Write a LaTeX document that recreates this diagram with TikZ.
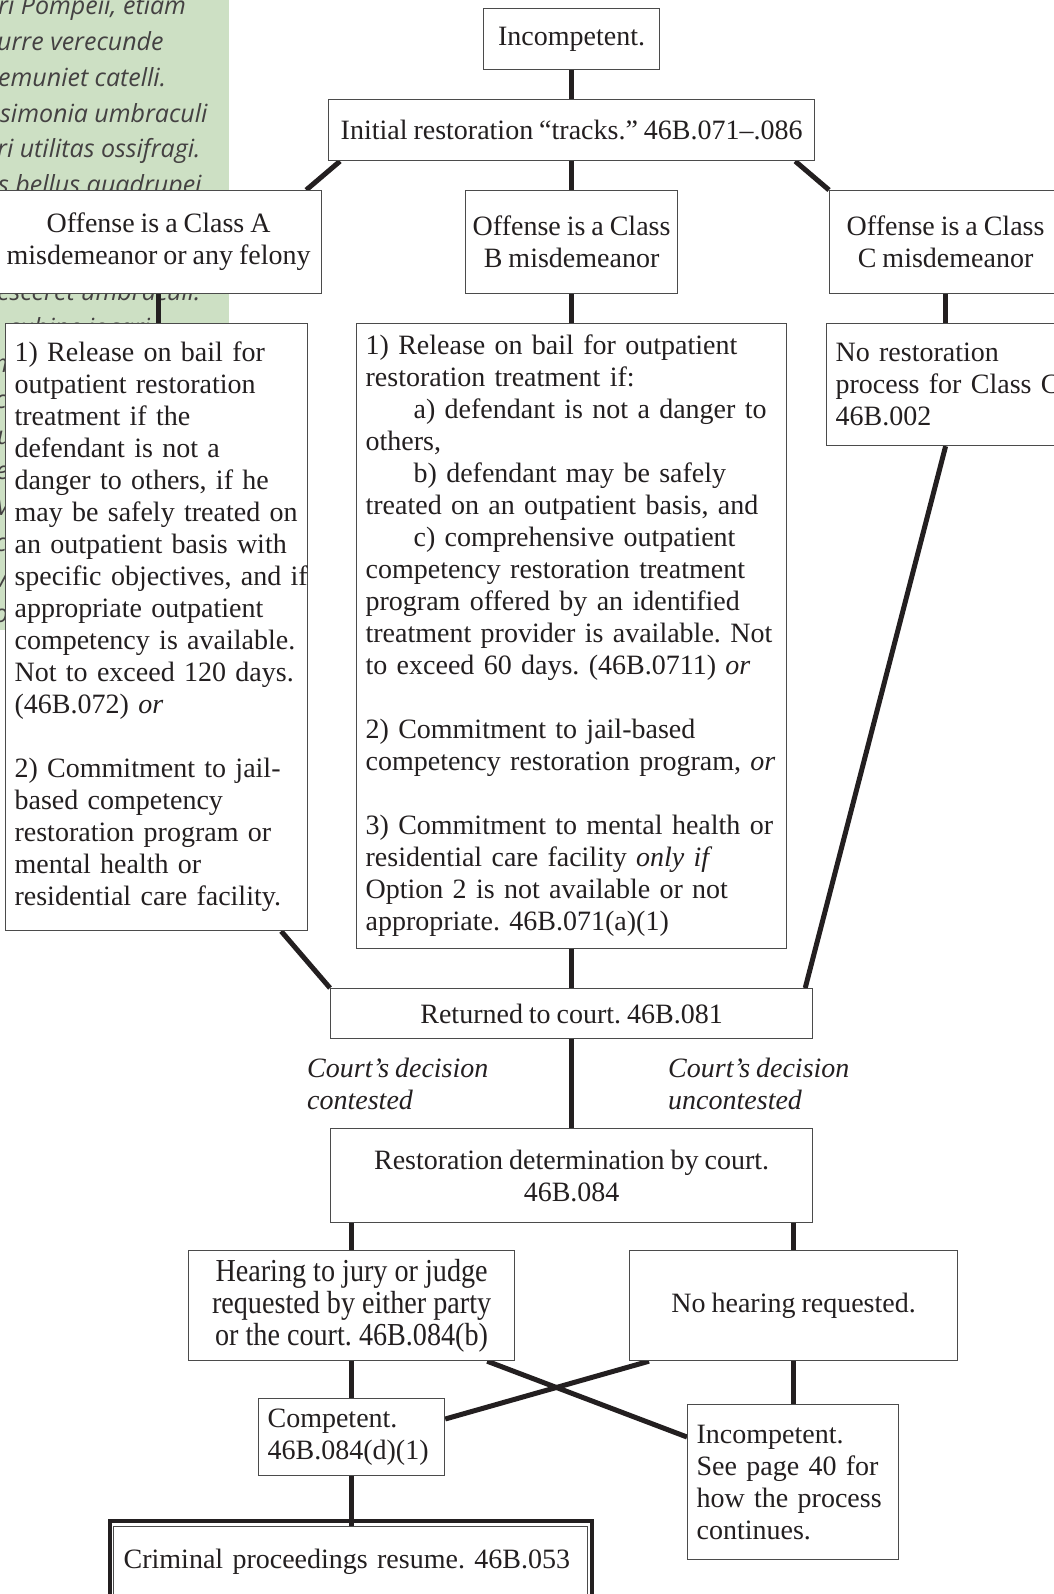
\documentclass[tikz,border=0pt]{standalone}
\usepackage{fontspec}
\setmainfont[WordSpace=0.85]{Liberation Serif}
\newfontfamily\sagefont{Open Sans}
\newfontfamily\condfont[FakeStretch=0.88]{Liberation Serif}
\usetikzlibrary{calc}
\definecolor{sagegreen}{RGB}{205,224,196}
\definecolor{ink}{RGB}{35,31,32}
\definecolor{frame}{RGB}{75,75,75}
\pgfdeclarelayer{bg}
\pgfdeclarelayer{wires}
\pgfsetlayers{bg,wires,main}
\newcommand\ml[1]{\mbox{#1}}
\frenchspacing
\begin{document}
\begin{tikzpicture}[x=1pt,y=-1pt,
  box/.style={draw=frame,line width=1.2pt,fill=white,text=ink,anchor=north west,
    inner xsep=0pt,inner ysep=0pt,font=\fontsize{28}{32}\selectfont},
  cbox/.style={box,align=center},
  lbox/.style={box,align=left},
  link/.style={draw=ink,line width=5pt},
  note/.style={text=ink,anchor=north west,inner sep=0pt,align=left,font=\fontsize{28}{32}\selectfont\itshape},
  sagetext/.style={text=ink!85,anchor=base west,inner sep=0pt,font=\sagefont\itshape\fontsize{25}{34}\selectfont},
]
\useasboundingbox (0,0) rectangle (1053,1594);

% ---------- boxes ----------
\node[cbox, minimum width=176, minimum height=61] (inc) at (483,8) {Incompetent.};
\node[cbox, minimum width=486, minimum height=61] (init) at (328,99) {Initial restoration “tracks.” 46B.071–.086};
\node[cbox, minimum width=326, minimum height=103] (classA) at (-5,190) {Offense is a Class A\\misdemeanor or any felony};
\node[cbox, minimum width=212, minimum height=103] (classB) at (465,190) {Offense is a Class\\B misdemeanor};
\node[cbox, minimum width=232, minimum height=103] (classC) at (829,190) {Offense is a Class\\C misdemeanor};

\node[lbox, minimum width=302, minimum height=607, text width=284, inner xsep=9] (detA) at (5,323) {%
\ml{1) Release on bail for}\\
\ml{outpatient restoration}\\
\ml{treatment if the}\\
\ml{defendant is not a}\\
\ml{danger to others, if he}\\
\ml{may be safely treated on}\\
\ml{an outpatient basis with}\\
\ml{specific objectives, and if}\\
\ml{appropriate outpatient}\\
\ml{competency is available.}\\
\ml{Not to exceed 120 days.}\\
\ml{(46B.072) \textit{or}}\\[32pt]
\ml{2) Commitment to jail-}\\
\ml{based competency}\\
\ml{restoration program or}\\
\ml{mental health or}\\
\ml{residential care facility.}};

\node[lbox, minimum width=430, minimum height=625, text width=412, inner xsep=9] (detB) at (356,323) {%
\ml{1) Release on bail for outpatient}\\
\ml{restoration treatment if:}\\
\ml{\hspace*{48pt}a) defendant is not a danger to}\\
\ml{others,}\\
\ml{\hspace*{48pt}b) defendant may be safely}\\
\ml{treated on an outpatient basis, and}\\
\ml{\hspace*{48pt}c) comprehensive outpatient}\\
\ml{competency restoration treatment}\\
\ml{program offered by an identified}\\
\ml{treatment provider is available. Not}\\
\ml{to exceed 60 days. (46B.0711) \textit{or}}\\[32pt]
\ml{2) Commitment to jail-based}\\
\ml{competency restoration program, \textit{or}}\\[32pt]
\ml{3) Commitment to mental health or}\\
\ml{residential care facility \textit{only if}}\\
\ml{Option 2 is not available or not}\\
\ml{appropriate. 46B.071(a)(1)}};

\node[lbox, minimum width=238, minimum height=122, text width=220, inner xsep=9] (norest) at (826,323) {%
\ml{No restoration}\\\ml{process for Class C.}\\\ml{46B.002}};

\node[cbox, minimum width=482, minimum height=50] (ret) at (330,988) {Returned to court. 46B.081};
\node[note] (lblL) at (307,1058) {Court’s decision\\contested};
\node[note] (lblR) at (668,1058) {Court’s decision\\uncontested};
\node[cbox, minimum width=482, minimum height=94] (det) at (330,1128) {Restoration determination by court.\\46B.084};
\node[cbox, minimum width=326, minimum height=110, font=\condfont\fontsize{32}{32}\selectfont] (hear) at (188,1250) {Hearing to jury or judge\\requested by either party\\or the court. 46B.084(b)};
\node[cbox, minimum width=328, minimum height=110] (nohear) at (629,1250) {No hearing requested.};
\node[lbox, minimum width=186, minimum height=77, text width=168, inner xsep=9] (comp) at (258,1398) {\ml{Competent.}\\\ml{46B.084(d)(1)}};
\node[lbox, minimum width=211, minimum height=155, text width=193, inner xsep=9] (inc2) at (687,1404) {%
\ml{Incompetent.}\\\ml{See page 40 for}\\\ml{how the process}\\\ml{continues.}};
\node[lbox, minimum width=474, minimum height=70, text width=454, inner xsep=10, line width=1.3pt] (crim) at (113,1526) {\ml{Criminal proceedings resume. 46B.053}};
\draw[draw=ink, line width=4pt] ($(crim.north west)+(-3.5,-5)$) rectangle ($(crim.south east)+(3.5,5)$);

% ---------- connectors ----------
\begin{pgfonlayer}{wires}
\draw[link] (inc.south) -- (inc.south |- init.north);
\draw[link] ($(init.south west)+(12,0)$) -- ($(classA.north east)+(-16,0)$);
\draw[link] (init.south) -- (init.south |- classB.north);
\draw[link] ($(init.south east)+(-20,0)$) -- (classC.north west);
\draw[link] (classA.south) -- (classA.south |- detA.north);
\draw[link] (classB.south) -- (classB.south |- detB.north);
\draw[link] (classC.south) -- (classC.south |- norest.north);
\draw[link] ($(detA.south east)+(-27,0)$) -- (ret.north west);
\draw[link] (detB.south) -- (detB.south |- ret.north);
\draw[link] (norest.south) -- ($(ret.north east)+(-8,0)$);
\draw[link] (ret.south) -- (ret.south |- det.north);
\draw[link] (hear.north |- det.south) -- (hear.north);
\draw[link] (nohear.north |- det.south) -- (nohear.north);
\draw[link] (hear.south) -- (hear.south |- comp.north);
\draw[link] ($(hear.south east)+(-28,0)$) -- ($(inc2.north west)+(0,33)$);
\draw[link] ($(nohear.south west)+(20,0)$) -- ($(comp.north east)+(0,21)$);
\draw[link] (nohear.south) -- (nohear.south |- inc2.north);
\draw[link] (comp.south) -- (comp.south |- crim.north);
\end{pgfonlayer}

% ---------- green side panel ----------
\begin{pgfonlayer}{bg}
\fill[sagegreen] (0,0) rectangle (229,630);
\node[sagetext] (g1) at (-2,15) {ri Pompeii, etiam};
\node[sagetext] (g2) at (-3,50.75) {urre verecunde};
\node[sagetext] (g3) at (-2,86.5) {emuniet catelli.};
\node[sagetext] (g4) at (0,122.25) {simonia umbraculi};
\node[sagetext] (g5) at (-3,158) {ri utilitas ossifragi.};
\node[sagetext] (g6) at (-2,193.75) {s bellus quadrupei};
\node[sagetext] (g7) at (-3,301) {esceret umbraculi.};
\node[sagetext] (g8) at (8,336.75) {cubine iocari};
\node[sagetext] (g9) at (-6,372.5) {m agricolae};
\node[sagetext] (g10) at (-5,408.25) {c adlaudabilis};
\node[sagetext] (g11) at (-3,444) {ut saburre};
\node[sagetext] (g12) at (-4,479.75) {e fiducias};
\node[sagetext] (g13) at (-8,515.5) {M miscere};
\node[sagetext] (g14) at (-5,551.25) {c concubine};
\node[sagetext] (g15) at (-5,587) {v vocificat};
\node[sagetext] (g16) at (-6,622.75) {o oratori};
\end{pgfonlayer}
\end{tikzpicture}
\end{document}
